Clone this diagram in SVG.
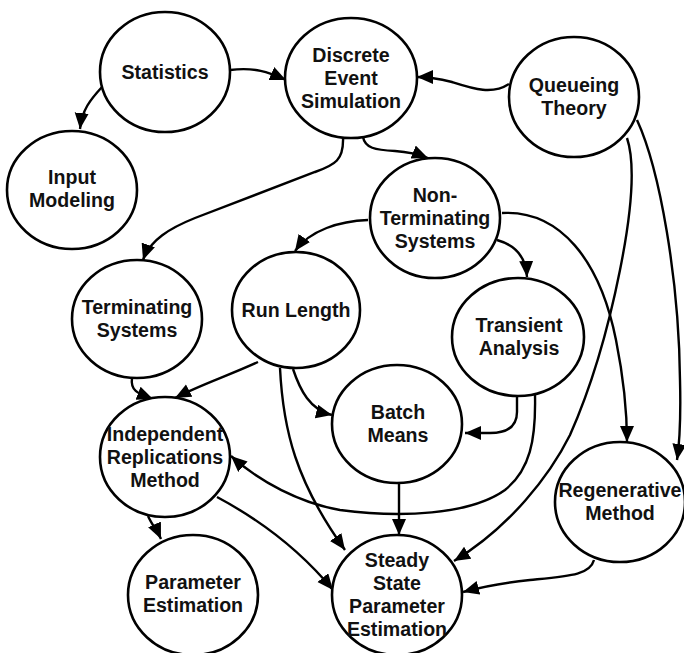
<svg xmlns="http://www.w3.org/2000/svg" width="684" height="653" viewBox="0 0 684 653">
<defs>
<marker id="arr" markerUnits="userSpaceOnUse" markerWidth="17" markerHeight="15" refX="16" refY="7" orient="auto">
<path d="M0,0 L16,7 L0,14 Z" fill="#000"/>
</marker>
<style>
.n ellipse{fill:#fff;stroke:#000;stroke-width:2.6}
.n text{font-family:"Liberation Sans",Arial,sans-serif;font-weight:bold;font-size:19.6px;text-anchor:middle;fill:#111}
#edges path{fill:none;stroke:#000;stroke-width:2.4;marker-end:url(#arr)}
</style>
</defs>
<rect width="684" height="653" fill="#fff"/>
<g id="edges">
<path d="M230,70 C255,67 268,72 286,80"/>
<path d="M102,87 C90,100 82,110 80,129"/>
<path d="M509,84 C492,95 474,89 452,82 C440,79 430,77 417,77"/>
<path d="M363,137 C365,148 375,150 395,151 C410,152 418,154 428,158"/>
<path d="M343,137 C344,160 335,165 315,172 L195,218 C170,228 150,240 143,260"/>
<path d="M368,220 C340,221 310,230 295,251"/>
<path d="M497,240 C515,245 526,257 527,277"/>
<path d="M502,213 C560,210 600,260 616,340 C624,380 627,410 627,442"/>
<path d="M637,120 C660,170 679,280 680,380 C681,420 680,440 677,460"/>
<path d="M627,138 C636,165 632,210 620,270 C608,330 590,390 570,435 C550,475 510,527 454,561"/>
<path d="M517,396 L517,412 C517,428 505,433 490,433 L465,433"/>
<path d="M535,395 C536,440 530,470 505,490 C470,515 400,518 340,510 C300,503 260,482 231,456"/>
<path d="M293,369 C300,390 310,410 332,415"/>
<path d="M280,368 C283,430 296,482 345,550"/>
<path d="M258,362 C230,375 200,385 175,398"/>
<path d="M132,378 C130,392 140,394 153,399"/>
<path d="M148,516 C152,525 157,530 161,539"/>
<path d="M217,497 C260,520 300,550 333,590"/>
<path d="M399,483 L399,535"/>
<path d="M594,560 C590,575 570,576 530,580 C500,583 485,586 463,592"/>
</g>
<g id="statistics" class="n"><ellipse cx="165" cy="72" rx="65" ry="60"/><text x="165" y="79">Statistics</text></g>
<g id="des" class="n"><ellipse cx="351" cy="78" rx="66" ry="60"/><text x="351" y="62">Discrete</text><text x="351" y="85">Event</text><text x="351" y="108">Simulation</text></g>
<g id="queueing" class="n"><ellipse cx="574" cy="97" rx="65" ry="60"/><text x="574" y="92">Queueing</text><text x="574" y="115">Theory</text></g>
<g id="input" class="n"><ellipse cx="72" cy="190" rx="65" ry="59"/><text x="72" y="184">Input</text><text x="72" y="207">Modeling</text></g>
<g id="nonterm" class="n"><ellipse cx="435" cy="218" rx="65" ry="60"/><text x="435" y="202">Non-</text><text x="435" y="225">Terminating</text><text x="435" y="248">Systems</text></g>
<g id="term" class="n"><ellipse cx="137" cy="319" rx="65" ry="59"/><text x="137" y="314">Terminating</text><text x="137" y="337">Systems</text></g>
<g id="runlength" class="n"><ellipse cx="296" cy="310" rx="64" ry="58"/><text x="296" y="317">Run Length</text></g>
<g id="transient" class="n"><ellipse cx="518" cy="337" rx="66" ry="59"/><text x="519" y="332">Transient</text><text x="519" y="355">Analysis</text></g>
<g id="batch" class="n"><ellipse cx="397" cy="424" rx="65" ry="59"/><text x="398" y="419">Batch</text><text x="398" y="442">Means</text></g>
<g id="irm" class="n"><ellipse cx="165" cy="457" rx="65" ry="60"/><text x="165" y="441">Independent</text><text x="165" y="464">Replications</text><text x="165" y="487">Method</text></g>
<g id="regen" class="n"><ellipse cx="620" cy="502" rx="65" ry="60"/><text x="620" y="497">Regenerative</text><text x="620" y="520">Method</text></g>
<g id="paramest" class="n"><ellipse cx="193" cy="595" rx="65" ry="60"/><text x="193" y="589">Parameter</text><text x="193" y="612">Estimation</text></g>
<g id="steady" class="n"><ellipse cx="397" cy="595" rx="65" ry="60"/><text x="397" y="567">Steady</text><text x="397" y="590">State</text><text x="397" y="613">Parameter</text><text x="397" y="636">Estimation</text></g>
</svg>
